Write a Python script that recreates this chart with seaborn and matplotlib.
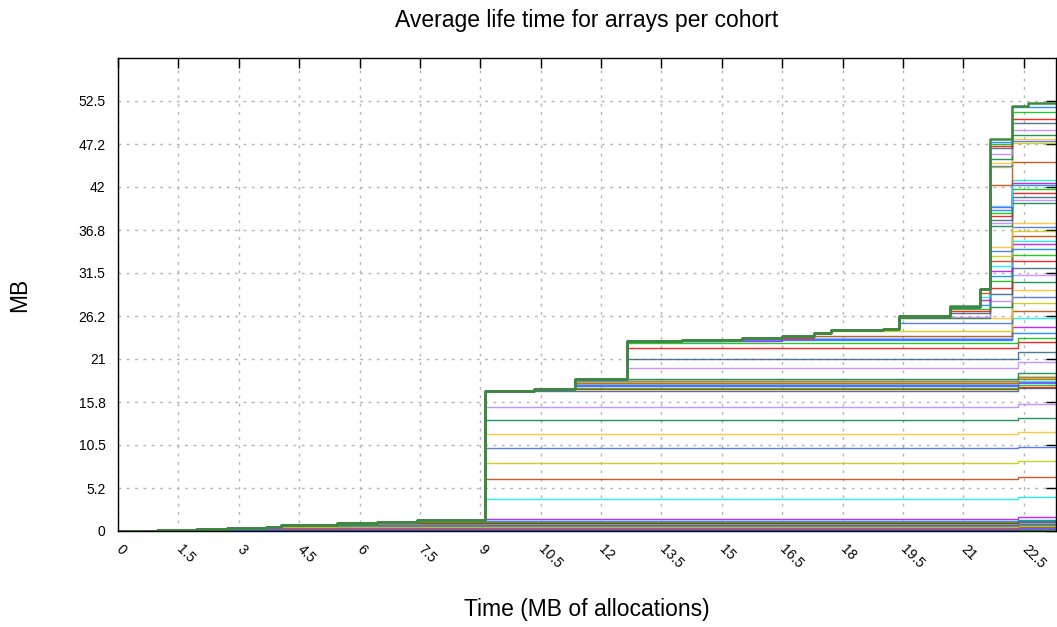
import matplotlib
matplotlib.use("Agg")
import matplotlib.pyplot as plt
import pandas as pd
import seaborn as sns

# ---------------- data ----------------
# shared path (time in MB of allocations, value in MB) that cohorts follow before branching off
TRUNK_T = [0.0, 0.96, 1.93, 2.7, 3.67, 4.04, 4.78, 5.45, 6.43, 7.43,
           9.12, 10.34, 11.34, 12.64, 14.0, 15.5, 16.5, 17.3, 17.7, 19.0]
TRUNK_MB = [0.03, 0.12, 0.2, 0.33, 0.53, 0.7, 0.78, 0.94, 1.06, 1.3,
            17.05, 17.3, 18.6, 23.25, 23.35, 23.55, 23.75, 24.2, 24.5, 24.65]

# each cohort: number of trunk points it follows, then its own (time, MB) points
COHORT_TRUNK = [
    1, 1, 2, 3, 3, 4, 4, 5, 5, 6, 7, 7, 8, 9, 9,          # 0-14
    10, 10, 10, 10, 10, 10, 10, 10, 11, 12,               # 15-24
    12, 12, 12, 12, 12, 12, 12, 12, 12,                   # 25-33
    13, 13, 13, 13, 13, 13, 13, 16, 18, 20, 20,           # 34-44
    20, 20, 20, 20, 20, 20, 20, 20, 20,                   # 45-53
    20, 20, 20, 20, 20, 20, 20, 20, 20, 20, 20,           # 54-64
    20, 20, 20, 20, 20, 20, 20, 20, 20, 20,               # 65-74
]
COHORT_POINTS = [
    [(22.36, 0.08)],
    [(0.96, 0.1), (22.36, 0.17)],
    [(1.93, 0.17), (22.36, 0.26)],
    [(2.7, 0.26), (22.36, 0.35)],
    [(2.7, 0.31), (22.36, 0.44)],
    [(3.67, 0.42), (22.36, 0.53)],
    [(3.67, 0.5), (22.36, 0.62)],
    [(4.04, 0.6), (22.36, 0.71)],
    [(4.04, 0.68), (22.36, 0.8)],
    [(4.78, 0.76), (22.36, 0.89)],
    [(5.45, 0.86), (22.36, 0.98)],
    [(5.45, 0.92), (22.36, 1.07)],
    [(6.43, 1.02), (22.36, 1.16)],
    [(7.43, 1.15), (22.36, 1.26)],
    [(7.43, 1.25), (22.36, 1.38)],
    [(9.12, 1.45), (22.36, 1.65)],
    [(9.12, 3.9), (22.36, 4.1)],
    [(9.12, 6.4), (22.36, 6.6)],
    [(9.12, 8.3), (22.36, 8.5)],
    [(9.12, 10.1), (22.36, 10.3)],
    [(9.12, 11.8), (22.36, 12.05)],
    [(9.12, 13.5), (22.36, 13.8)],
    [(9.12, 15.2), (22.36, 15.5)],
    [(22.36, 17.4)],
    [(22.36, 17.6)],
    [(11.34, 17.5), (22.36, 17.85)],
    [(11.34, 17.7), (22.36, 18.05)],
    [(11.34, 17.85), (22.36, 18.2)],
    [(11.34, 18.0), (22.36, 18.35)],
    [(11.34, 18.1), (22.36, 18.5)],
    [(11.34, 18.2), (22.36, 18.65)],
    [(11.34, 18.3), (22.36, 18.8)],
    [(11.34, 18.4), (22.36, 18.95)],
    [(11.34, 18.55), (22.36, 19.3)],
    [(12.64, 19.9), (22.36, 20.6)],
    [(12.64, 21.05), (22.36, 21.9)],
    [(12.64, 22.3), (22.36, 23.1)],
    [(12.64, 23.0), (22.36, 23.6)],
    [(12.64, 23.15), (15.0, 23.3), (22.21, 24.2)],
    [(12.64, 23.2), (16.5, 23.4), (22.21, 24.9)],
    [(12.64, 23.25), (15.5, 23.45), (16.5, 23.6), (22.21, 26.0)],
    [(17.3, 23.8), (22.21, 26.9)],
    [(17.7, 24.4), (22.21, 27.8)],
    [(19.4, 25.4), (22.21, 28.6)],
    [(19.4, 25.95), (22.21, 29.4)],
    [(19.4, 26.05), (21.66, 27.3), (22.21, 30.4)],
    [(19.4, 26.1), (21.66, 28.1), (22.21, 31.3)],
    [(19.4, 26.15), (20.67, 26.6), (21.66, 28.9), (22.21, 32.1)],
    [(19.4, 26.2), (20.67, 26.85), (21.66, 29.7), (22.21, 33.0)],
    [(19.4, 26.25), (20.67, 27.1), (21.66, 30.5), (22.21, 33.7)],
    [(19.4, 26.25), (20.67, 27.4), (21.42, 27.6), (21.66, 31.1), (22.21, 34.4)],
    [(19.4, 26.25), (20.67, 27.4), (21.42, 28.2), (21.66, 31.8), (22.21, 35.0)],
    [(19.4, 26.25), (20.67, 27.4), (21.42, 28.6), (21.66, 32.4), (22.21, 35.4)],
    [(19.4, 26.25), (20.67, 27.4), (21.42, 29.0), (21.66, 33.0), (22.21, 36.0)],
    [(19.4, 26.25), (20.67, 27.4), (21.42, 29.5), (21.66, 33.6), (22.21, 36.6)],
    [(19.4, 26.25), (20.67, 27.4), (21.42, 29.5), (21.66, 34.2), (22.21, 37.1)],
    [(19.4, 26.25), (20.67, 27.4), (21.42, 29.5), (21.66, 34.7), (22.21, 37.6)],
    [(19.4, 26.25), (20.67, 27.4), (21.42, 29.5), (21.66, 37.2), (22.21, 40.0)],
    [(19.4, 26.25), (20.67, 27.4), (21.42, 29.5), (21.66, 37.6), (22.21, 40.4)],
    [(19.4, 26.25), (20.67, 27.4), (21.42, 29.5), (21.66, 38.0), (22.21, 40.8)],
    [(19.4, 26.25), (20.67, 27.4), (21.42, 29.5), (21.66, 38.4), (22.21, 41.3)],
    [(19.4, 26.25), (20.67, 27.4), (21.42, 29.5), (21.66, 38.8), (22.21, 41.7)],
    [(19.4, 26.25), (20.67, 27.4), (21.42, 29.5), (21.66, 39.2), (22.21, 42.2)],
    [(19.4, 26.25), (20.67, 27.4), (21.42, 29.5), (21.66, 39.5), (22.21, 42.5)],
    [(19.4, 26.25), (20.67, 27.4), (21.42, 29.5), (21.66, 39.7), (22.21, 42.8)],
    [(19.4, 26.25), (20.67, 27.4), (21.42, 29.5), (21.66, 42.2), (22.21, 45.1)],
    [(19.4, 26.25), (20.67, 27.4), (21.42, 29.5), (21.66, 44.4), (22.21, 47.4)],
    [(19.4, 26.25), (20.67, 27.4), (21.42, 29.5), (21.66, 44.6), (22.21, 47.6)],
    [(19.4, 26.25), (20.67, 27.4), (21.42, 29.5), (21.66, 44.9), (22.21, 47.8)],
    [(19.4, 26.25), (20.67, 27.4), (21.42, 29.5), (21.66, 45.4), (22.21, 48.4)],
    [(19.4, 26.25), (20.67, 27.4), (21.42, 29.5), (21.66, 46.0), (22.21, 48.96)],
    [(19.4, 26.25), (20.67, 27.4), (21.42, 29.5), (21.66, 46.8), (22.21, 49.8)],
    [(19.4, 26.25), (20.67, 27.4), (21.42, 29.5), (21.66, 47.0), (22.21, 50.3)],
    [(19.4, 26.25), (20.67, 27.4), (21.42, 29.5), (21.66, 47.2), (22.21, 51.2)],
    [(19.4, 26.25), (20.67, 27.4), (21.42, 29.5), (21.66, 47.5), (22.21, 51.8)],
]
# the uppermost (all arrays) line
TOTAL_POINTS = [(19.4, 26.3), (20.67, 27.45), (21.42, 29.55), (21.66, 47.9),
                (22.21, 51.95), (22.6, 52.2), (23.0, 52.3)]
LAST_T = 23.3

X_TICKS = [0, 1.5, 3, 4.5, 6, 7.5, 9, 10.5, 12, 13.5, 15, 16.5, 18, 19.5, 21, 22.5]
X_TICK_LABELS = ["0", "1.5", "3", "4.5", "6", "7.5", "9", "10.5", "12", "13.5",
                 "15", "16.5", "18", "19.5", "21", "22.5"]
Y_TICKS = [0, 5.25, 10.5, 15.75, 21, 26.25, 31.5, 36.75, 42, 47.25, 52.5]
Y_TICK_LABELS = ["0", "5.2", "10.5", "15.8", "21", "26.2", "31.5", "36.8", "42", "47.2", "52.5"]

COLOR_CYCLE = ["#ff0000", "#00c000", "#0080ff", "#c000ff", "#00eeee", "#c04000",
               "#c8c800", "#4169e1", "#ffc020", "#008040", "#c080ff", "#306080"]

# ---------------- build table ----------------
rows = []
for i, (n, own) in enumerate(zip(COHORT_TRUNK, COHORT_POINTS)):
    pts = list(zip(TRUNK_T[:n], TRUNK_MB[:n])) + list(own)
    pts.append((LAST_T, pts[-1][1]))
    for t, v in pts:
        rows.append((f"c{i:02d}", t, v))
df = pd.DataFrame(rows, columns=["cohort", "t", "mb"])
order = [f"c{i:02d}" for i in range(len(COHORT_POINTS))]
palette = {c: COLOR_CYCLE[i % len(COLOR_CYCLE)] for i, c in enumerate(order)}

tot = list(zip(TRUNK_T, TRUNK_MB)) + TOTAL_POINTS
tot.append((LAST_T, tot[-1][1]))
df_tot = pd.DataFrame(tot, columns=["t", "mb"])

# ---------------- plot ----------------
sns.set_theme(style="white")
plt.rcParams["font.family"] = ["Liberation Sans", "DejaVu Sans"]
plt.rcParams["text.color"] = "black"
plt.rcParams["axes.labelcolor"] = "black"

fig = plt.figure(figsize=(10.57, 6.27), dpi=100)
ax = fig.add_axes([118 / 1057, 1 - 531 / 627, (1056 - 118) / 1057, (531 - 58) / 627])

sns.lineplot(data=df, x="t", y="mb", hue="cohort", hue_order=order, palette=palette,
             estimator=None, sort=False, drawstyle="steps-post", linewidth=1.0,
             alpha=0.85, legend=False, ax=ax)
sns.lineplot(data=df_tot, x="t", y="mb", color="#3d8a3d", estimator=None, sort=False,
             drawstyle="steps-post", linewidth=1.8, ax=ax)

ax.set_xlim(0, LAST_T)
ax.set_ylim(0, 57.75)
ax.set_xticks(X_TICKS)
ax.set_xticklabels(X_TICK_LABELS, rotation=-45, ha="left", va="center",
                   rotation_mode="anchor", fontsize=10)
ax.set_yticks(Y_TICKS)
ax.set_yticklabels(Y_TICK_LABELS, fontsize=10)
ax.tick_params(axis="both", direction="in", length=7, width=1, color="black",
               top=True, right=True, labelcolor="black")
ax.tick_params(axis="x", pad=12)
ax.tick_params(axis="y", pad=9)

ax.grid(True, color="#b4b4b4", linestyle=(0, (2, 4)), linewidth=1)
ax.set_axisbelow(True)
for s in ax.spines.values():
    s.set_color("black")
    s.set_linewidth(1)

ax.set_title("Average life time for arrays per cohort", fontsize=16.5, pad=22, color="black")
ax.set_xlabel("Time (MB of allocations)", fontsize=16.5, color="black")
ax.set_ylabel("MB", fontsize=16.5, color="black")
ax.xaxis.set_label_coords(0.5, -0.142)
ax.yaxis.set_label_coords(-0.093, 0.5)

fig.savefig("out.png", dpi=100)
